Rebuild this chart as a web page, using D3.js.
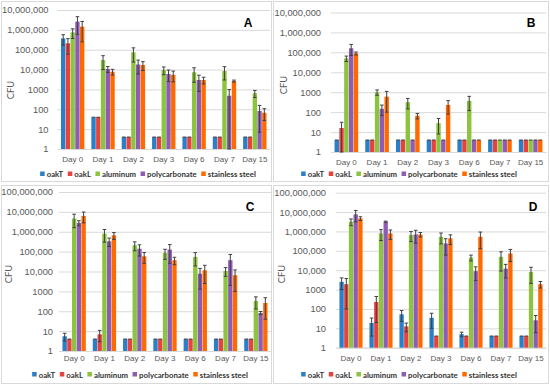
<!DOCTYPE html>
<html>
<head>
<meta charset="utf-8">
<script src="https://cdn.jsdelivr.net/npm/d3@7"></script>
<style>
  body { margin: 0; background: #fff; }
  svg { display: block; font-family: Lato, "Open Sans", sans-serif; }
</style>
</head>
<body>
<div id="chart"></div>
<script>
var days = ["Day 0", "Day 1", "Day 2", "Day 3", "Day 6", "Day 7", "Day 15"];
var seriesNames = ["oakT", "oakL", "aluminum", "polycarbonate", "stainless steel"];
var seriesColors = ["#2a7fc6", "#e8423f", "#8cc43f", "#8e5cb3", "#ff6a00"];
var tickLabels = ["1", "10", "100", "1000", "10,000", "100,000", "1,000,000", "10,000,000", "100,000,000"];

// values per series (oakT, oakL, aluminum, polycarbonate, stainless steel), one entry per day
var valuesA = [
  [370000, 40, 4, 4, 4, 4, 4],
  [210000, 40, 4, 4, 4, 4, 4],
  [750000, 30000, 74000, 9500, 7300, 8500, 640],
  [2600000, 10700, 18000, 6000, 3000, 480, 82],
  [1450000, 7800, 17000, 5400, 3000, 2650, 67]
];
var errorsA = [
  [200000, 0, 0, 0, 0, 0, 0],
  [150000, 0, 0, 0, 0, 0, 0],
  [380000, 20000, 50000, 4000, 5000, 5500, 250],
  [2000000, 3500, 12000, 3500, 2200, 500, 75],
  [1200000, 2500, 8000, 3000, 1100, 300, 40]
];

var valuesB = [
  [4, 4, 4, 4, 4, 4, 4],
  [16, 4, 4, 4, 4, 4, 4],
  [50000, 1000, 316, 28, 370, 4, 4],
  [160000, 147, 4, 4, 4, 4, 4],
  [89000, 600, 66, 230, 4, 4, 4]
];
var errorsB = [
  [0, 0, 0, 0, 0, 0, 0],
  [15, 0, 0, 0, 0, 0, 0],
  [15000, 300, 170, 20, 250, 0, 0],
  [90000, 80, 0, 0, 0, 0, 0],
  [15000, 500, 20, 150, 0, 0, 0]
];

var valuesC = [
  [5.5, 4, 4, 4, 4, 4, 4],
  [4, 6.9, 4, 4, 4, 4, 4],
  [4600000, 800000, 210000, 86000, 54000, 10700, 330],
  [2800000, 330000, 140000, 126000, 7800, 37000, 82],
  [6300000, 660000, 58000, 37000, 11500, 6500, 260]
];
var errorsC = [
  [2.3, 0, 0, 0, 0, 0, 0],
  [0, 4, 0, 0, 0, 0, 0],
  [3000000, 500000, 100000, 45000, 35000, 5000, 200],
  [800000, 150000, 80000, 100000, 6500, 35000, 15],
  [3500000, 250000, 32000, 15000, 9000, 5500, 220]
];

var valuesD = [
  [2500, 19, 53, 35, 5, 4, 4],
  [1900, 230, 12.6, 4, 4, 4, 4],
  [3200000, 790000, 650000, 530000, 45000, 49000, 8100],
  [7600000, 3200000, 700000, 240000, 8900, 12000, 26],
  [4700000, 790000, 700000, 440000, 530000, 73000, 1900]
];
var errorsD = [
  [1500, 15, 30, 25, 1.3, 0, 0],
  [1800, 210, 6, 0, 0, 0, 0],
  [1200000, 450000, 350000, 300000, 15000, 40000, 6000],
  [4500000, 200000, 450000, 180000, 6000, 8000, 20],
  [1000000, 400000, 180000, 230000, 400000, 45000, 700]
];

var svg = d3.select("#chart").append("svg").attr("width", 550).attr("height", 385);

// draw one panel
function drawPanel(p) {
  var g = svg.append("g");

  // panel frame
  g.append("rect")
    .attr("x", p.box[0] + 0.5).attr("y", p.box[1] + 0.5)
    .attr("width", p.box[2] - p.box[0]).attr("height", p.box[3] - p.box[1])
    .attr("fill", "#fff").attr("stroke", "#d9d9d9");

  var y = d3.scaleLog().domain([1, p.max]).range([p.bottom, p.top]);
  var x = d3.scaleBand().domain(days).range([p.left, p.right])
    .paddingInner(0.23).paddingOuter(0.115);
  var xs = d3.scaleBand().domain(d3.range(seriesNames.length))
    .range([0, x.bandwidth()]).paddingInner(0.08);

  var ticks = tickLabels.slice(0, Math.round(Math.log10(p.max)) + 1);
  var tickVals = ticks.map(function(d, i) { return Math.pow(10, i); });

  // gridlines + labels
  var ya = g.append("g").attr("transform", "translate(" + p.left + ",0)")
    .call(d3.axisLeft(y).tickValues(tickVals)
      .tickFormat(function(d, i) { return ticks[i]; })
      .tickSize(-(p.right - p.left)).tickPadding(p.pad));
  ya.select(".domain").remove();
  ya.selectAll("line").attr("stroke", "#d9d9d9");
  ya.selectAll("text").attr("fill", "#595959").style("font-size", "9.3px");

  var xa = g.append("g").attr("transform", "translate(0," + p.bottom + ")")
    .call(d3.axisBottom(x).tickSize(0).tickPadding(p.catPad));
  xa.select(".domain").attr("stroke", "#d9d9d9");
  xa.selectAll("text").attr("fill", "#595959").style("font-size", "8px");

  // bars
  p.values.forEach(function(vals, s) {
    g.append("g").selectAll("rect")
      .data(vals)
      .enter()
      .append("rect")
      .attr("x", function(d, i) { return x(days[i]) + xs(s); })
      .attr("width", xs.bandwidth())
      .attr("y", function(d) { return y(d); })
      .attr("height", function(d) { return p.bottom - y(d); })
      .attr("fill", seriesColors[s]);
  });

  // error bars
  p.values.forEach(function(vals, s) {
    var eg = g.append("g").attr("stroke", "#404040").attr("stroke-width", 1);
    vals.forEach(function(v, i) {
      var e = p.errors[s][i];
      var cx = x(days[i]) + xs(s) + xs.bandwidth() / 2;
      var hi = y(v + e);
      var lo = y(Math.max(1, v - e));
      eg.append("line").attr("x1", cx).attr("x2", cx).attr("y1", hi).attr("y2", lo);
      eg.append("line").attr("x1", cx - 1.8).attr("x2", cx + 1.8).attr("y1", hi).attr("y2", hi);
      if (e > 0) {
        eg.append("line").attr("x1", cx - 1.8).attr("x2", cx + 1.8).attr("y1", lo).attr("y2", lo);
      }
    });
  });

  // y title
  g.append("text")
    .attr("transform", "translate(" + p.titleX + "," + p.titleY + ") rotate(-90)")
    .attr("text-anchor", "middle")
    .attr("fill", "#595959").style("font-size", "9.3px")
    .text("CFU");

  // panel letter
  g.append("text")
    .attr("x", p.letterX).attr("y", p.letterY)
    .attr("text-anchor", "middle")
    .style("font-family", "'Liberation Sans', Arial, sans-serif")
    .style("font-weight", "bold").style("font-size", "12px")
    .attr("fill", "#000")
    .text(p.letter);

  // legend
  var lg = g.append("g");
  var cur = 0;
  seriesNames.forEach(function(name, s) {
    lg.append("rect").attr("x", cur).attr("y", -2.5)
      .attr("width", 4.5).attr("height", 4.5).attr("fill", seriesColors[s]);
    var t = lg.append("text").attr("x", cur + 6.5).attr("y", 3)
      .attr("fill", "#333").style("font-size", "7.8px").style("font-weight", "bold")
      .text(name);
    cur += 6.5 + t.node().getComputedTextLength() + 4.5;
  });
  var lw = cur - 4.5;
  lg.attr("transform", "translate(" + (p.legendCx - lw / 2) + "," + p.legendY + ")");
}

drawPanel({
  letter: "A", values: valuesA, errors: errorsA, max: 1e7,
  box: [1, 1, 271, 181], left: 57.5, right: 270, top: 10, bottom: 149,
  pad: 9, catPad: 7, titleX: 14, titleY: 90, letterX: 248, letterY: 27,
  legendCx: 148, legendY: 174
});
drawPanel({
  letter: "B", values: valuesB, errors: errorsB, max: 1e7,
  box: [273, 1, 548, 181], left: 331, right: 546, top: 12.5, bottom: 152,
  pad: 10, catPad: 7, titleX: 287, titleY: 85, letterX: 531, letterY: 27,
  legendCx: 409, legendY: 174
});
drawPanel({
  letter: "C", values: valuesC, errors: errorsC, max: 1e8,
  box: [1, 185, 271, 383], left: 59, right: 271, top: 192, bottom: 351,
  pad: 6, catPad: 4, titleX: 12, titleY: 274, letterX: 250, letterY: 211,
  legendCx: 140, legendY: 374.5
});
drawPanel({
  letter: "D", values: valuesD, errors: errorsD, max: 1e8,
  box: [273, 185, 548, 383], left: 336, right: 546, top: 192.7, bottom: 347.7,
  pad: 10, catPad: 8, titleX: 285, titleY: 274, letterX: 533, letterY: 211,
  legendCx: 409, legendY: 374.5
});
</script>
</body>
</html>
